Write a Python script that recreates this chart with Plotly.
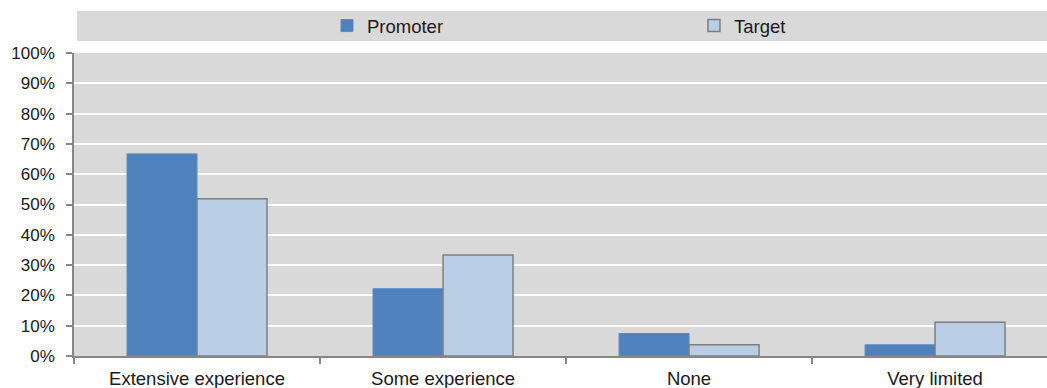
import plotly.graph_objects as go

# Share of respondents by level of prior experience
categories = ["Extensive experience", "Some experience", "None", "Very limited"]
promoter = [0.667, 0.222, 0.074, 0.037]
target = [0.519, 0.333, 0.037, 0.111]
y_ticks = [i / 10 for i in range(11)]
y_tick_labels = [f"{i * 10}%" for i in range(11)]

FONT = "Liberation Sans, Arial, sans-serif"
AXIS_GREY = "#868686"
TEXT = "#1a1a1a"

fig = go.Figure()
fig.add_trace(go.Bar(
    name="Promoter", x=categories, y=promoter,
    marker=dict(color="#4f81bd", line=dict(color="#5a8ac6", width=1)),
))
fig.add_trace(go.Bar(
    name="Target", x=categories, y=target,
    marker=dict(color="#b9cde5", line=dict(color="#7f7f7f", width=1.5)),
))

# grey band behind the legend
fig.add_shape(type="rect", xref="paper", yref="paper",
              x0=0.003, x1=1.0, y0=1.0396, y1=1.1386,
              fillcolor="#d9d9d9", line=dict(width=0), layer="below")

fig.update_layout(
    width=1047, height=388,
    margin=dict(l=74, r=0, t=53, b=32, autoexpand=False),
    paper_bgcolor="white", plot_bgcolor="#d9d9d9",
    font=dict(family=FONT, size=18.5, color=TEXT),
    barmode="group", bargap=0.431, bargroupgap=0,
    legend=dict(orientation="h", x=0.26, xanchor="left", y=1.089, yanchor="middle",
                bgcolor="rgba(0,0,0,0)", itemwidth=30,
                entrywidthmode="pixels", entrywidth=322,
                font=dict(family=FONT, size=18.5, color=TEXT)),
    xaxis=dict(range=[-0.5, 3.455], showgrid=False, showline=True,
               linecolor=AXIS_GREY, linewidth=1.5, ticks="outside",
               tickson="boundaries", ticklen=6, tickcolor=AXIS_GREY, tickwidth=1.5,
               ticklabelstandoff=5, tickfont=dict(size=18.5)),
    yaxis=dict(range=[0, 1], tickvals=y_ticks, ticktext=y_tick_labels,
               showgrid=True, gridcolor="white", gridwidth=1.5, zeroline=False,
               showline=True, linecolor=AXIS_GREY, linewidth=1.5,
               ticks="outside", ticklen=6, tickcolor=AXIS_GREY, tickwidth=1.5,
               ticklabelstandoff=8, tickfont=dict(size=17)),
)

fig.write_html("out.html")
